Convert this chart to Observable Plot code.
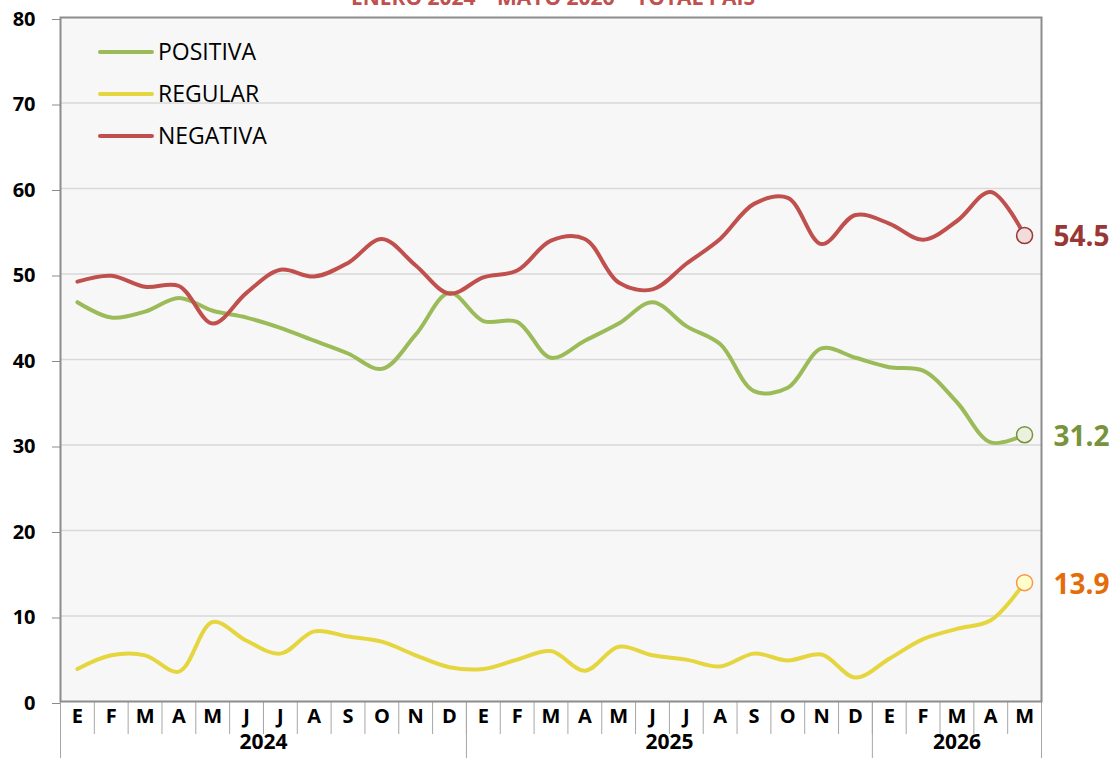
<!DOCTYPE html>
<html><head><meta charset="utf-8">
<script src="https://cdn.jsdelivr.net/npm/d3@7"></script>
<script src="https://cdn.jsdelivr.net/npm/@observablehq/plot@0.6"></script>
<style>body{margin:0;background:#fff;overflow:hidden} svg{display:block}</style>
</head><body><div id="chart"></div>
<script>
const months = ["E","F","M","A","M","J","J","A","S","O","N","D",
                "E","F","M","A","M","J","J","A","S","O","N","D",
                "E","F","M","A","M"];
const years = ["2024","2025","2026"];
const yearCounts = [12,12,5];
const yTicks = [0,10,20,30,40,50,60,70,80];
const seriesNames = ["POSITIVA","REGULAR","NEGATIVA"];
const positiva = [46.7,44.9,45.6,47.2,45.7,44.9,43.7,42.2,40.7,38.9,42.9,47.8,
                  44.5,44.4,40.2,42.2,44.2,46.7,43.9,41.8,36.3,36.7,41.3,40.2,
                  39.1,38.7,35.0,30.3,31.2];
const regular  = [3.8,5.4,5.4,3.5,9.3,7.1,5.6,8.2,7.6,7.0,5.4,4.0,
                  3.8,4.9,5.9,3.6,6.4,5.4,4.9,4.1,5.6,4.8,5.5,2.8,
                  5.0,7.3,8.5,9.5,13.9];
const negativa = [49.1,49.8,48.5,48.6,44.2,47.8,50.5,49.7,51.3,54.1,51.0,47.7,
                  49.6,50.4,53.9,54.1,49.0,48.2,51.2,54.1,58.2,58.9,53.5,56.9,
                  55.9,54.0,56.2,59.6,54.5];
const title = "ENERO 2024 – MAYO 2026 – TOTAL PAÍS";

const FONT = "'Open Sans', sans-serif";
const styles = {
  POSITIVA: {line:"#9bbb59", label:"#77933c", mfill:"#ebf1de", mstroke:"#77933c"},
  REGULAR:  {line:"#e5d63f", label:"#e46c0a", mfill:"#ffffcc", mstroke:"#f79646"},
  NEGATIVA: {line:"#c0504d", label:"#983735", mfill:"#f2dcdb", mstroke:"#983735"}
};
const valuesBy = {POSITIVA: positiva, REGULAR: regular, NEGATIVA: negativa};
const rows = seriesNames.flatMap(s => valuesBy[s].map((v, i) => ({serie: s, i, v})));
const last = seriesNames.map(s => ({serie: s, i: valuesBy[s].length - 1, v: valuesBy[s][valuesBy[s].length - 1]}));

// month / year boundaries
const monthEdges = d3.range(months.length + 1).map(i => i - 0.5);
let acc = 0;
const yearEdges = [-0.5];
const yearCenters = years.map((y, k) => {
  const c = acc + (yearCounts[k] - 1) / 2;
  acc += yearCounts[k];
  yearEdges.push(acc - 0.5);
  return {year: y, c};
});

const W = 1113, H = 758, mL = 60, mR = 72, mT = 17, mB = 57;
const innerH = H - mT - mB;

const plot = Plot.plot({
  width: W, height: H,
  marginLeft: mL, marginRight: mR, marginTop: mT, marginBottom: mB,
  style: {fontFamily: FONT, background: "#fff", overflow: "visible"},
  x: {type: "linear", domain: [-0.5, months.length - 0.5]},
  y: {domain: [0, 80]},
  marks: [
    Plot.frame({fill: "#f7f7f7", stroke: null}),
    Plot.gridY(yTicks.filter(t => t > 0 && t < 80), {stroke: "#d9d9d9", strokeOpacity: 1, strokeWidth: 1.5}),
    Plot.ruleX(monthEdges, {stroke: "#a6a6a6", strokeWidth: 1, insetTop: innerH, insetBottom: -33}),
    Plot.ruleX(yearEdges, {stroke: "#a6a6a6", strokeWidth: 1, insetTop: innerH, insetBottom: -mB}),
    Plot.frame({stroke: "#8c8c8c", strokeWidth: 2}),
    Plot.axisY(yTicks, {label: null, tickSize: 8, tickPadding: 17, fontSize: 20, fontWeight: "bold", fill: "#000", stroke: "#8c8c8c", dy: 2}),
    Plot.axisX(d3.range(months.length), {label: null, tickFormat: i => months[i], tickSize: 0, tickPadding: 7, fontSize: 20, fontWeight: "bold", fill: "#000"}),
    Plot.text(yearCenters, {x: "c", text: "year", frameAnchor: "bottom", dy: 47, fontSize: 21, fontWeight: "bold", fill: "#000"}),
    ...seriesNames.map(s => Plot.line(rows.filter(d => d.serie === s), {
      x: "i", y: "v", stroke: styles[s].line, strokeWidth: 4, curve: "catmull-rom"
    })),
    Plot.dot(last, {x: "i", y: "v", r: 8, fill: d => styles[d.serie].mfill, stroke: d => styles[d.serie].mstroke, strokeWidth: 1.5}),
    Plot.text(last, {x: "i", y: "v", text: d => d.v.toFixed(1), dx: 29, dy: 2, textAnchor: "start", fontSize: 28, fontWeight: "bold", fill: d => styles[d.serie].label})
  ]
});

document.getElementById("chart").appendChild(plot);

// legend and title
const svg = d3.select(plot);
const lg = svg.append("g").attr("text-anchor", "start");
seriesNames.forEach((s, k) => {
  const y = 52 + k * 42;
  lg.append("line").attr("x1", 100).attr("x2", 152).attr("y1", y).attr("y2", y)
    .attr("stroke", styles[s].line).attr("stroke-width", 4).attr("stroke-linecap", "round");
  lg.append("text").attr("x", 158).attr("y", y).attr("dy", "0.36em").attr("text-anchor", "start")
    .attr("font-family", FONT).attr("font-size", 23).attr("fill", "#000").text(s);
});
svg.append("text").attr("x", 553).attr("y", 5).attr("text-anchor", "middle")
  .attr("font-family", FONT).attr("font-size", 21).attr("font-weight", "bold")
  .attr("fill", "#c0504d").text(title);
</script>
</body></html>
